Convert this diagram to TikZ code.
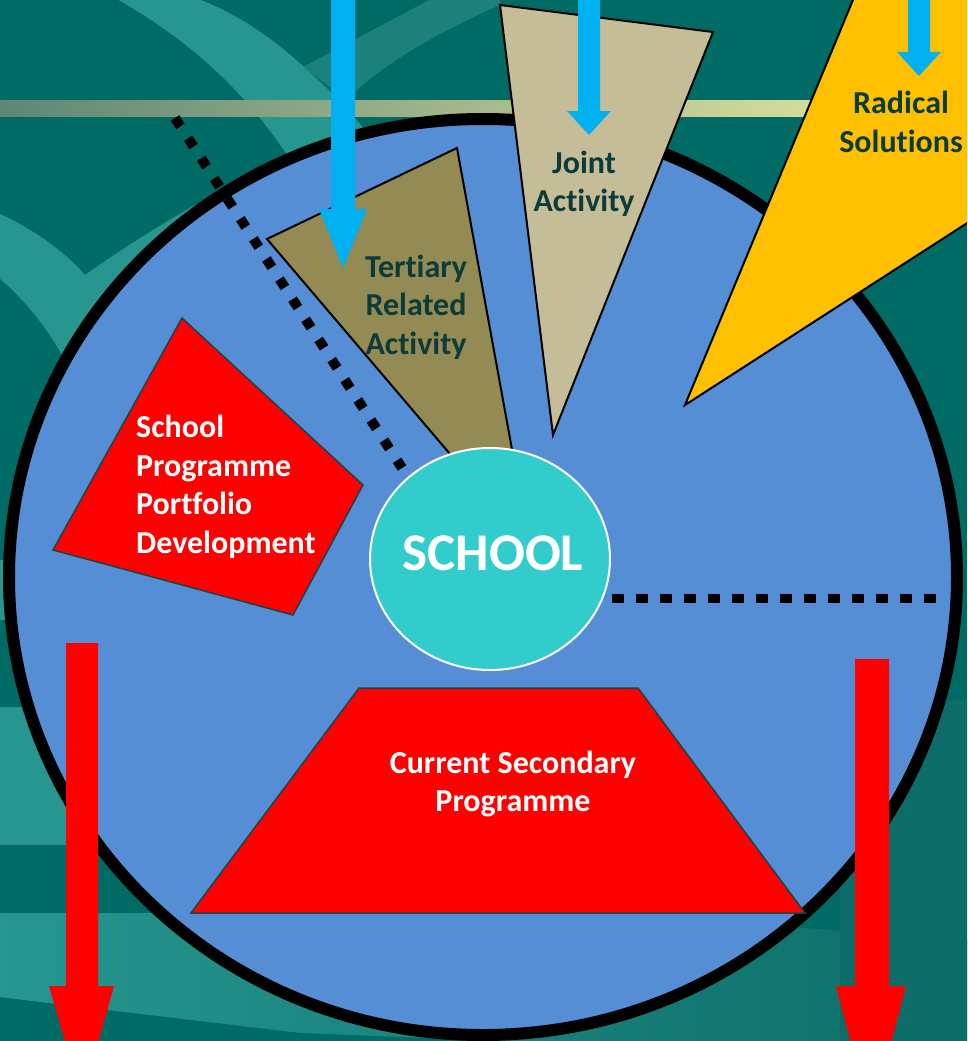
\documentclass[tikz,border=0pt]{standalone}
\usepackage{fontspec}
\setmainfont{Carlito}[Ligatures=NoCommon]
\usetikzlibrary{shapes.geometric}
\definecolor{bgdark}{HTML}{006A65}
\definecolor{bgmid}{HTML}{0C6D68}
\definecolor{swA}{HTML}{26968F}
\definecolor{swB}{HTML}{1C817B}
\definecolor{bandL}{HTML}{5F8676}
\definecolor{bandR}{HTML}{D5DC9B}
\definecolor{circblue}{HTML}{558ED5}
\definecolor{schoolc}{HTML}{33CCCC}
\definecolor{olive}{HTML}{948A54}
\definecolor{tan}{HTML}{C4BD97}
\definecolor{gold}{HTML}{FFC000}
\definecolor{arrowblue}{HTML}{00B0F0}
\definecolor{txtdark}{HTML}{0C3B3A}
\definecolor{edgedark}{HTML}{1A4545}
\begin{document}
\begin{tikzpicture}[x=1pt,y=-1pt,
  tri/.style={draw=black,line width=2pt,line join=miter},
  redshape/.style={fill=red,draw=edgedark,line width=1.5pt},
  lbl/.style={font=\fontsize{32}{38.5}\selectfont\bfseries,text=txtdark,align=center,inner sep=0pt},
  wlbl/.style={font=\fontsize{32}{38.5}\selectfont\bfseries,text=white,inner sep=0pt},
  dotline/.style={line width=10pt,dash pattern=on 10pt off 14pt},
  hdotline/.style={line width=9pt,dash pattern=on 12pt off 12pt}]
\useasboundingbox (0,0) rectangle (967,1041);
\clip (0,0) rectangle (967,1041);
% background
\fill[bgdark] (0,0) rectangle (967,1041);
\fill[swA] (115,-2) .. controls (180,35) and (245,85) .. (300,175) -- (400,175) .. controls (360,120) and (330,90) .. (305,68) .. controls (270,35) and (230,10) .. (195,-2) -- cycle;
\fill[swB] (303,67) -- (433,-2) -- (500,-2) -- (500,5) .. controls (420,40) and (370,75) .. (347,100) -- cycle;
\fill[swA] (-2,213) .. controls (35,230) and (65,252) .. (85,275) .. controls (100,292) and (115,310) .. (125,330) -- (70,370) .. controls (50,330) and (25,300) .. (-2,277) -- cycle;
\fill[swA] (85,275) .. controls (120,250) and (160,225) .. (195,205) -- (230,240) .. controls (180,260) and (130,290) .. (100,300) -- cycle;
\fill[swA] (-2,560) rectangle (10,620);
\fill[swA] (-2,707) rectangle (140,845);
\shade[left color=swA,right color=bgmid] (-2,913) -- (600,913) -- (969,940) -- (969,1045) -- (-2,1045) -- cycle;
\fill[bgdark] (-2,997) -- (300,1033) -- (600,1045) -- (-2,1045) -- cycle;
\fill[bgmid] (840,700) rectangle (969,1045);
% horizontal band
\shade[left color=bandL,right color=bandR] (0,100) rectangle (812,116);
% main circle
\filldraw[fill=circblue,draw=black,line width=12pt] (483,577) ellipse [x radius=474pt,y radius=458pt];
% sectors
\filldraw[fill=olive,tri] (267,239) -- (457,148) -- (530,548) -- cycle;
\filldraw[fill=tan,tri] (500,5) -- (713,32) -- (553,435) -- cycle;
\filldraw[fill=gold,tri] (855,-5) -- (685,405) -- (975,218) -- (975,-5);
% red shapes
\filldraw[redshape] (182,318) -- (363,485) -- (293,615) -- (53,550) -- cycle;
\filldraw[redshape] (359,688) -- (638,688) -- (805,913) -- (191,913) -- cycle;
% school
\node[draw=white,line width=2pt,fill=schoolc,ellipse,minimum width=240pt,minimum height=222pt,inner sep=0pt] (school) at (490,559) {};
\node[font=\fontsize{53}{56}\selectfont\bfseries,text=white,inner sep=0pt] (schooltxt) at (493,553) {SCHOOL};
% dotted lines
\coordinate (d1a) at (175,118);
\coordinate (d1b) at (402,468);
\draw[dotline] (d1a) -- (d1b);
\coordinate (d2a) at (612,598);
\coordinate (d2b) at (936,598);
\draw[hdotline] (d2a) -- (d2b);
% blue arrows
\fill[arrowblue] (331,-5) -- (355,-5) -- (355,209) -- (367,209) -- (343,268) -- (319,209) -- (331,209) -- cycle;
\fill[arrowblue] (578,-5) -- (600,-5) -- (600,111) -- (611,111) -- (589,135) -- (567,111) -- (578,111) -- cycle;
\fill[arrowblue] (908,-5) -- (930,-5) -- (930,52) -- (941,52) -- (919,76) -- (897,52) -- (908,52) -- cycle;
% red arrows
\fill[red] (66,643) -- (98,643) -- (98,986) -- (114,986) -- (82,1100) -- (49,986) -- (66,986) -- cycle;
\fill[red] (855,659) -- (889,659) -- (889,986) -- (906,986) -- (871,1120) -- (836,986) -- (855,986) -- cycle;
% labels
\node[lbl] (tert) at (416,307) {Tertiary\\Related\\Activity};
\node[lbl] (joint) at (584,184) {Joint\\Activity};
\node[lbl] (radical) at (901,122) {Radical\\Solutions};
\node[wlbl,align=left,anchor=west] (spp) at (136,487) {School\\Programme\\Portfolio\\Development};
\node[wlbl,align=center] (csp) at (513,784) {Current Secondary\\Programme};
\end{tikzpicture}
\end{document}
